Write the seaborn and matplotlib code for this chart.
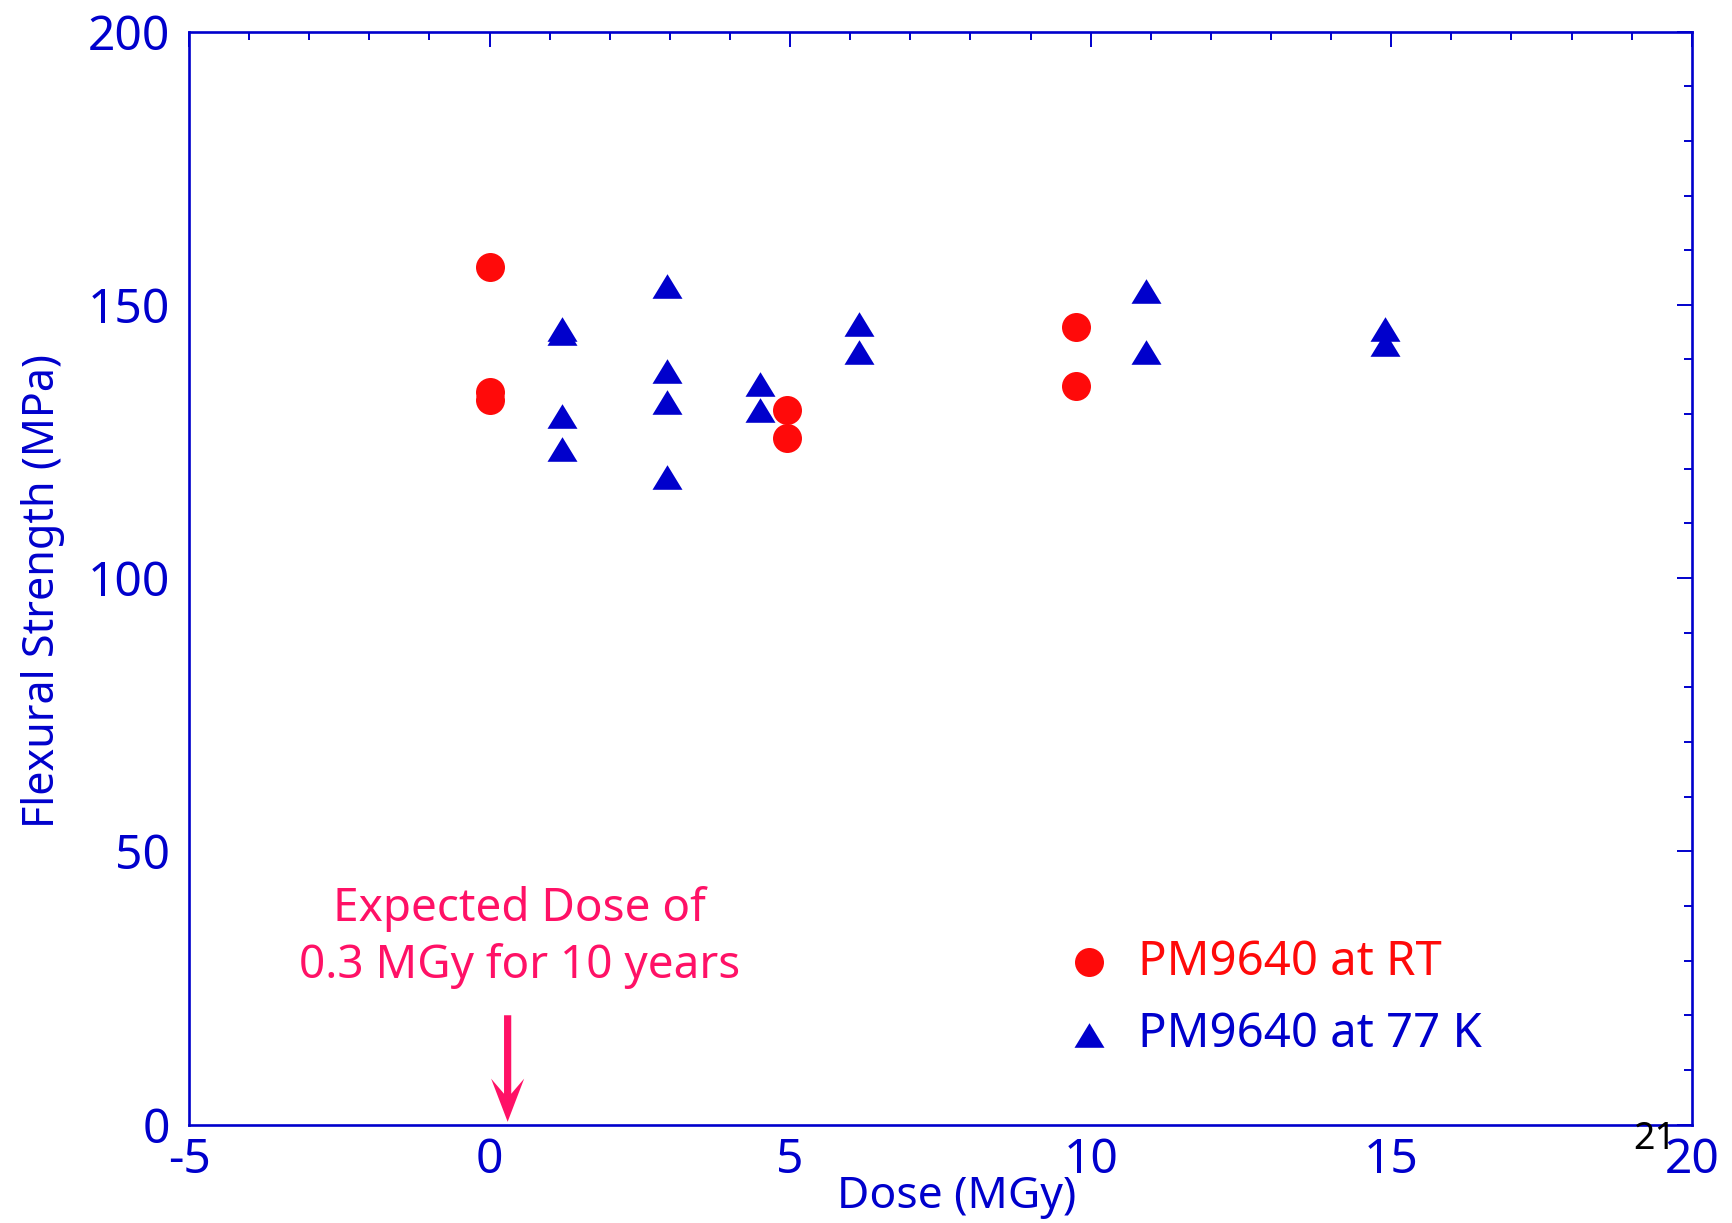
import numpy as np
import pandas as pd
import matplotlib
matplotlib.use("Agg")
import matplotlib.pyplot as plt
from matplotlib.patches import FancyArrow
from matplotlib.ticker import MultipleLocator
import seaborn as sns

# Flexural strength of PM9640 versus irradiation dose
rt_dose = [0.0, 0.0, 0.0, 4.95, 4.95, 9.75, 9.75]
rt_strength = [157.0, 134.0, 132.5, 130.7, 125.7, 145.9, 135.1]

lnt_dose = [1.2, 1.2, 1.2, 1.2, 2.95, 2.95, 2.95, 2.95,
            4.5, 4.5, 6.15, 6.15, 10.92, 10.92, 14.9, 14.9]
lnt_strength = [145.6, 144.8, 129.6, 123.6, 153.4, 137.9, 132.2, 118.4,
                135.5, 130.7, 146.5, 141.3, 152.5, 141.3, 145.6, 142.8]

series_labels = ["PM9640 at RT", "PM9640 at 77 K"]
expected_dose = 0.3
annotation_lines = ["Expected Dose of", "0.3 MGy for 10 years"]
x_ticks = [-5, 0, 5, 10, 15, 20]
y_ticks = [0, 50, 100, 150, 200]

BLUE = "#0000CC"
RED = "#FF0A0A"
PINK = "#FF1166"

sns.set_style("white")
plt.rcParams["font.family"] = ["Noto Sans", "DejaVu Sans"]
plt.rcParams["axes.unicode_minus"] = False

df_rt = pd.DataFrame({"Dose": rt_dose, "Strength": rt_strength})
df_lnt = pd.DataFrame({"Dose": lnt_dose, "Strength": lnt_strength})

fig = plt.figure(figsize=(17.33, 12.23), dpi=100)
ax = fig.add_axes([0.1091, 0.0805, 0.8671, 0.8937])

triangle = [(0.0, 0.82), (-1.0, -0.82), (1.0, -0.82), (0.0, 0.82)]

sns.scatterplot(data=df_rt, x="Dose", y="Strength", ax=ax, color=RED,
                marker="o", s=436, linewidth=0, label=series_labels[0],
                zorder=3)
sns.scatterplot(data=df_lnt, x="Dose", y="Strength", ax=ax, color=BLUE,
                marker=triangle, s=466, linewidth=0, label=series_labels[1],
                zorder=3)

ax.set_xlim(-5, 20)
ax.set_ylim(0, 200)
ax.set_xticks(x_ticks)
ax.set_yticks(y_ticks)
ax.xaxis.set_minor_locator(MultipleLocator(1))
ax.yaxis.set_minor_locator(MultipleLocator(10))

for side in ax.spines.values():
    side.set_color(BLUE)
    side.set_linewidth(1.9)

ax.tick_params(which="both", direction="in", top=True, right=True,
               color=BLUE, width=1.4, labelcolor=BLUE)
ax.tick_params(which="major", length=11)
ax.tick_params(which="minor", length=5.5)
ax.tick_params(axis="x", which="major", labelsize=34.5, pad=9)
ax.tick_params(axis="y", which="major", labelsize=34.5, pad=14)

ax.set_xlabel("Dose (MGy)", fontsize=32, color=BLUE, va="center")
ax.set_ylabel("Flexural Strength (MPa)", fontsize=31, color=BLUE,
              va="center")
ax.xaxis.set_label_coords(0.5106, -0.0663)
ax.yaxis.set_label_coords(-0.0975, 0.488)

# Annotation for the expected lifetime dose
ax.text(0.5, 37.2, annotation_lines[0], fontsize=33, color=PINK,
        ha="center", va="baseline")
ax.text(0.5, 26.75, annotation_lines[1], fontsize=33, color=PINK,
        ha="center", va="baseline")
ax.add_patch(FancyArrow(expected_dose, 20, 0, -19.5, width=0.12,
                        head_width=0.55, head_length=7.9, overhang=0.35,
                        length_includes_head=True, color=PINK, lw=0,
                        zorder=4))

leg = ax.legend(loc="upper left", bbox_to_anchor=(0.5673, 0.1875),
                frameon=False, fontsize=34, handletextpad=0.45,
                labelspacing=0.55, borderaxespad=0, handlelength=1.2,
                labelcolor="markerfacecolor")

fig.text(1655 / 1733, 1 - 1139 / 1223, "21", fontsize=27, color="black",
         ha="center", va="center")

fig.savefig("out.png", dpi=100, facecolor="white")
